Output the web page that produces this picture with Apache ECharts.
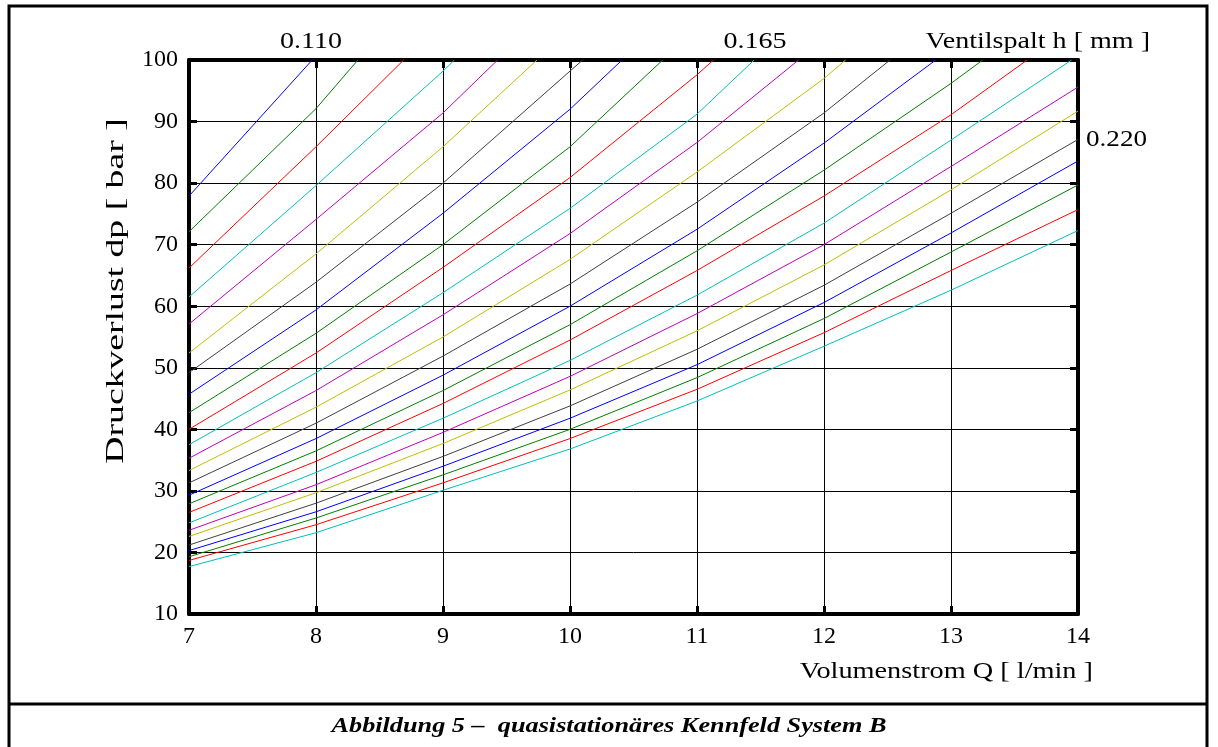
<!DOCTYPE html>
<html>
<head>
<meta charset="utf-8">
<script src="https://cdn.jsdelivr.net/npm/echarts@6/dist/echarts.min.js"></script>
<style>
  html, body { margin: 0; padding: 0; background: #fff; }
  #main { width: 1218px; height: 747px; }
</style>
</head>
<body>
<div id="main"></div>
<script>
// Volumenstrom Q [l/min] an den Gitterlinien
var flowQ = [7, 8, 9, 10, 11, 12, 13, 14];

var dp = [
  [77.9],
  [72.1, 92.1],
  [66.2, 85.9],
  [61.5, 79.6, 98.2],
  [57.1, 74.1, 91.4],
  [52.4, 68.5, 85.9],
  [49.2, 63.9, 80.0, 98.2],
  [45.7, 59.4, 75.1, 92.0],
  [42.7, 55.6, 70.0, 85.9],
  [40.0, 52.4, 66.3, 80.9, 97.6],
  [37.5, 49.2, 62.2, 75.9, 91.2],
  [35.3, 46.3, 58.6, 71.8, 86.6],
  [33.3, 43.6, 55.0, 67.6, 81.8, 97.0],
  [31.3, 41.0, 51.9, 63.6, 76.9, 91.4],
  [29.3, 38.5, 48.8, 60.0, 72.5, 86.5],
  [27.9, 36.5, 46.3, 57.0, 69.0, 82.1, 96.2],
  [26.5, 34.8, 44.2, 54.5, 65.8, 77.9, 91.1],
  [24.8, 33.0, 41.8, 51.2, 61.8, 73.5, 87.0],
  [23.6, 31.0, 39.5, 48.6, 58.8, 70.0, 82.7, 95.6],
  [22.6, 29.7, 37.7, 46.4, 56.0, 66.7, 78.9, 91.7],
  [21.2, 28.0, 35.6, 43.8, 53.0, 63.4, 75.1, 87.1],
  [20.3, 26.6, 34.0, 41.8, 50.5, 60.6, 71.9, 83.6],
  [19.3, 25.6, 32.6, 40.0, 48.4, 58.0, 68.8, 79.7],
  [18.7, 24.5, 31.3, 38.5, 46.5, 55.7, 65.8, 75.7],
  [17.7, 23.2, 30.1, 36.8, 44.6, 53.5, 62.6, 72.3]
];

// Q, bei dem die Kennlinie den oberen Rand (100 bar) erreicht
var topExitQ = [7.97, 8.33, 8.69, 9.09, 9.43, 9.74, 10.1, 10.41, 10.73, 11.13,
  11.45, 11.8, 12.17, 12.52, 12.88, 13.25, 13.6, 13.95, null, null, null, null, null, null, null];

var gapLabels = ['0.110', '0.165', '0.220'];

var lineColors = ['#0000ff', '#008000', '#ff0000', '#00bfbf', '#bf00bf', '#bfbf00', '#404040'];

var serif = '"Liberation Serif", "Times New Roman", serif';

var myChart = echarts.init(document.getElementById('main'), null, { renderer: 'canvas' });

var series = dp.map(function (vals, i) {
  var pts = vals.map(function (v, k) { return [flowQ[k], v]; });
  if (topExitQ[i] != null) pts.push([topExitQ[i], 100]);
  return {
    type: 'line',
    data: pts,
    showSymbol: false,
    symbol: 'none',
    silent: true,
    lineStyle: { width: 1, color: lineColors[i % lineColors.length] },
    xAxisIndex: 0,
    yAxisIndex: 0
  };
});

var xBase = {
  type: 'value', min: 7, max: 14, interval: 1,
  axisLine: { show: true, onZero: false, lineStyle: { color: '#000', width: 4 } },
  axisTick: { show: true, inside: true, length: 8, lineStyle: { color: '#000', width: 3 } }
};
var yBase = {
  type: 'value', min: 10, max: 100, interval: 10,
  axisLine: { show: true, onZero: false, lineStyle: { color: '#000', width: 4 } },
  axisTick: { show: true, inside: true, length: 8, lineStyle: { color: '#000', width: 3 } }
};

// gedehnte Schrift wie im Original
function label(txt, x, y, size, align, sx, extra) {
  var el = {
    type: 'text', x: x, y: y, scaleX: sx, silent: true,
    style: { text: txt, font: size + 'px ' + serif, fill: '#000', align: align, verticalAlign: 'middle' }
  };
  return Object.assign(el, extra || {});
}

var option = {
  backgroundColor: '#fff',
  animation: false,
  grid: { left: 189, right: 140, top: 60, bottom: 133 },
  xAxis: [
    Object.assign({}, xBase, {
      position: 'bottom',
      axisLabel: { fontFamily: serif, fontSize: 24, color: '#000', margin: 11 },
      splitLine: { show: true, lineStyle: { color: '#000', width: 1 } }
    }),
    Object.assign({}, xBase, {
      position: 'top',
      axisLabel: { show: false },
      splitLine: { show: false }
    })
  ],
  yAxis: [
    Object.assign({}, yBase, {
      position: 'left',
      axisLabel: { fontFamily: serif, fontSize: 24, color: '#000', margin: 11 },
      splitLine: { show: true, lineStyle: { color: '#000', width: 1 } }
    }),
    Object.assign({}, yBase, {
      position: 'right',
      axisLabel: { show: false },
      splitLine: { show: false }
    })
  ],
  graphic: [
    { type: 'rect', shape: { x: 9, y: 6, width: 1198, height: 745 }, style: { fill: 'none', stroke: '#000', lineWidth: 3 }, silent: true, z: -1 },
    { type: 'line', shape: { x1: 9, y1: 704, x2: 1207, y2: 704 }, style: { stroke: '#000', lineWidth: 3 }, silent: true },
    label(gapLabels[0], 311, 42, 23, 'center', 1.22),
    label(gapLabels[1], 755, 42, 23, 'center', 1.22),
    label('Ventilspalt h [ mm ]', 1150, 42, 23, 'right', 1.22),
    label(gapLabels[2], 1086, 140, 23, 'left', 1.18),
    label('Volumenstrom Q [ l/min ]', 1093, 672, 23, 'right', 1.23),
    label('Druckverlust dp [ bar ]', 116, 291, 26, 'center', 1.45, { rotation: Math.PI / 2 }),
    {
      type: 'text', x: 609, y: 727, scaleX: 1.25, silent: true,
      style: {
        text: 'Abbildung 5 –  quasistationäres Kennfeld System B',
        font: 'italic bold 21px ' + serif, fill: '#000', align: 'center', verticalAlign: 'middle'
      }
    }
  ],
  series: series
};

myChart.setOption(option);
window.onresize = function () {
  myChart.resize();
};
</script>
</body>
</html>
